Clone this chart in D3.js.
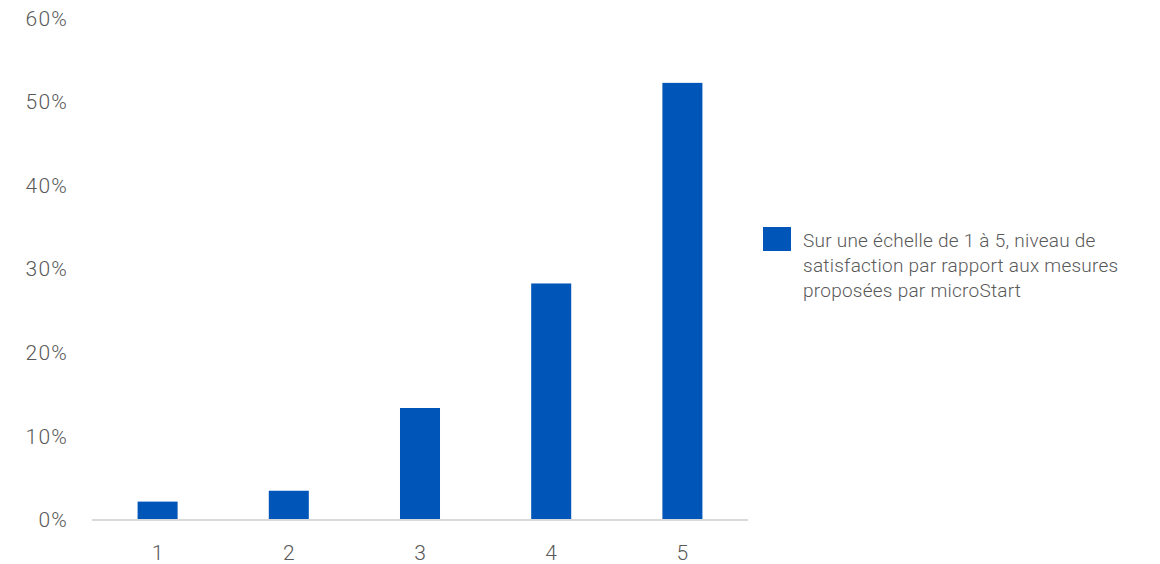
<!DOCTYPE html>
<html><head><meta charset="utf-8">
<script src="https://cdn.jsdelivr.net/npm/d3@7"></script>
<style>
html,body{margin:0;padding:0;background:#fff;}
text{font-family:Roboto,"Liberation Sans",sans-serif;fill:#595959;}
</style></head>
<body>
<svg id="c" width="1160" height="564"></svg>
<script>
const categories = ["1","2","3","4","5"];
const values = [2.2, 3.5, 13.4, 28.3, 52.3];
const yTicks = [0,10,20,30,40,50,60];
const seriesName = ["Sur une échelle de 1 à 5, niveau de","satisfaction par rapport aux mesures","proposées par microStart"];

const svg = d3.select("#c");
const x = d3.scaleBand().domain(categories).range([92,748]).paddingInner(0.695).paddingOuter(0.3475);
const y = d3.scaleLinear().domain([0,60]).range([520,18.5]);

// y labels
const ya = svg.append("g").attr("transform","translate(68,0)")
  .call(d3.axisLeft(y).tickValues(yTicks).tickSize(0).tickPadding(0).tickFormat(d=>d+"%"));
ya.select(".domain").remove();
ya.selectAll("text").attr("font-size",21).attr("font-family","Roboto").attr("fill","#595959").attr("font-weight",300).style("letter-spacing","1.2px");

// bars
svg.append("g").selectAll("rect").data(values).join("rect")
  .attr("x",(d,i)=>x(categories[i]))
  .attr("width",x.bandwidth())
  .attr("y",d=>y(d))
  .attr("height",d=>y(0)-y(d))
  .attr("fill","#0055b8");

// baseline + x labels
const xa = svg.append("g").attr("transform","translate(0,520)")
  .call(d3.axisBottom(x).tickSize(0).tickPadding(25));
xa.select(".domain").attr("stroke","#d9d9d9").attr("stroke-width",2).attr("d","M92,0H748");
xa.selectAll("text").attr("font-size",21).attr("font-family","Roboto").attr("fill","#595959").attr("font-weight",300);

// legend
const lg = svg.append("g");
lg.append("rect").attr("x",763).attr("y",227).attr("width",28).attr("height",24).attr("fill","#0055b8");
lg.append("text").attr("x",803).attr("y",247).attr("font-size",19).attr("font-weight",300).style("letter-spacing","0.25px")
  .selectAll("tspan").data(seriesName).join("tspan")
  .attr("x",803).attr("dy",(d,i)=>i?25:0).text(d=>d);
</script>
</body></html>
